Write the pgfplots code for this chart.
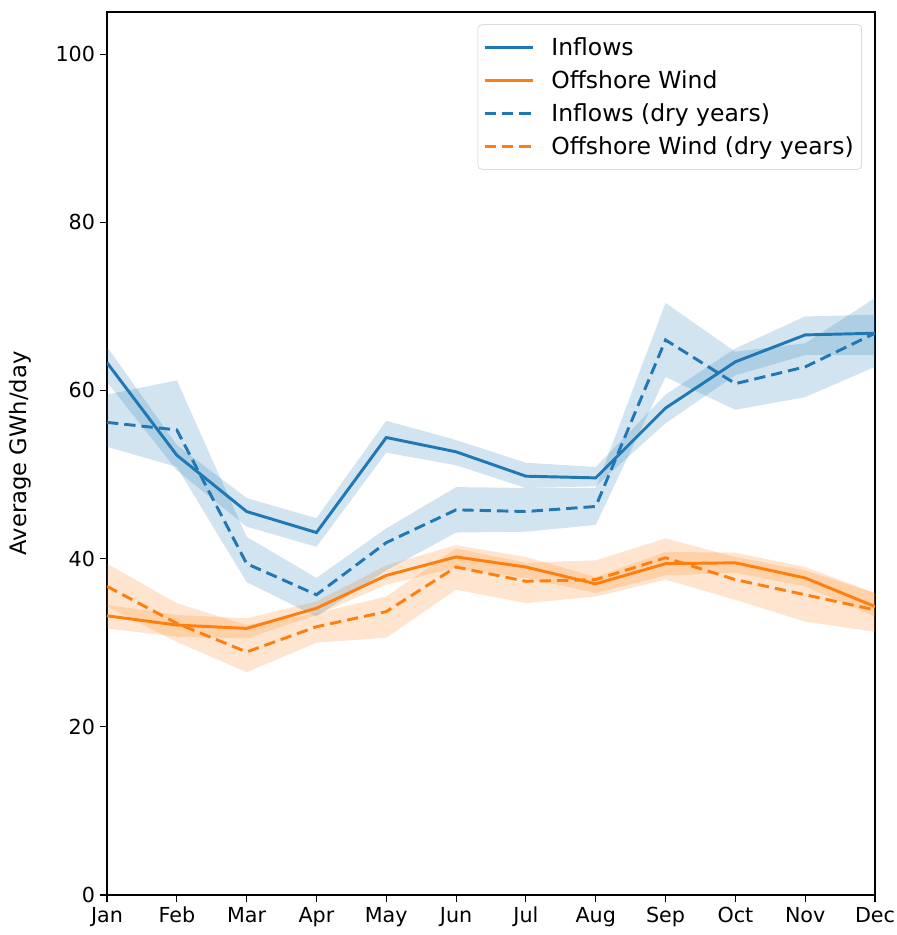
\documentclass[border=0pt]{standalone}
\usepackage{fontspec}
\setmainfont{DejaVu Sans}
\usepackage{pgfplots}
\usepackage{pgfplotstable}
\pgfplotsset{compat=1.18}
\usepgfplotslibrary{fillbetween}
\usetikzlibrary{calc}
\definecolor{tblue}{HTML}{1F77B4}
\definecolor{torange}{HTML}{FF7F0E}
\pgfplotstableread{
x ih im il dh dm dl oh om ol wh wm wl
0 65.2 63.3 61.0 59.5 56.2 53.3 34.5 33.2 31.7 39.4 36.7 34.3
1 53.5 52.3 50.5 61.2 55.3 50.9 33.3 32.1 30.7 34.7 32.3 30.1
2 47.2 45.6 43.8 42.6 39.4 37.2 32.9 31.7 30.5 32.1 28.9 26.5
3 44.8 43.1 41.4 37.7 35.7 33.1 34.9 34.1 33.3 33.5 31.9 30.0
4 56.4 54.4 52.6 43.6 41.9 38.6 39.2 38.0 36.9 35.5 33.7 30.6
5 54.1 52.7 51.1 48.5 45.8 43.1 41.6 40.2 38.9 41.2 39.0 36.3
6 51.4 49.8 48.4 48.4 45.6 43.2 40.2 39.0 37.7 39.5 37.3 34.7
7 50.9 49.6 48.6 48.4 46.2 44.0 37.8 37.0 35.9 39.8 37.5 35.5
8 59.5 57.9 56.1 70.4 66.0 61.6 40.8 39.4 38.0 42.4 40.1 37.5
9 65.0 63.4 61.8 64.6 60.8 57.7 40.7 39.5 38.3 40.2 37.5 35.1
10 68.8 66.6 64.2 65.6 62.8 59.2 39.0 37.7 36.7 38.6 35.7 32.5
11 69.0 66.8 64.2 71.0 66.8 62.8 35.9 34.3 33.1 35.9 33.9 31.3
}\data
\begin{document}
\begin{tikzpicture}[font=\fontsize{15.5}{18.6}\selectfont]
\begin{axis}[name=ax, scale only axis, width=576pt, height=662.25pt,
  xmin=0, xmax=11, ymin=0, ymax=105,
  xtick={0,...,11},
  xticklabels={Jan,Feb,Mar,Apr,May,Jun,Jul,Aug,Sep,Oct,Nov,Dec},
  ytick={0,20,40,60,80,100},
  tick align=outside, xtick pos=bottom, ytick pos=left,
  major tick length=5.5pt,
  tick style={black, line width=0.8pt},
  axis line style={line width=0.8pt},
  /pgf/number format/assume math mode=true,
  ylabel={Average GWh/day},
  ylabel style={at={(axis description cs:-0.113,0.5)}, anchor=center,
    font=\fontsize{17}{20}\selectfont},
  legend cell align=left,
  legend style={at={(0.983,0.986)}, anchor=north east, draw=black!20,
    rounded corners=3pt, fill=white, fill opacity=0.8, text opacity=1,
    inner xsep=4pt, inner ysep=7.5pt, row sep=6pt,
    font=\fontsize{17.6}{20.5}\selectfont,
    nodes={inner sep=2pt}},
  legend image code/.code={\draw[#1] (0pt,0pt) -- (36.5pt,0pt);
    \path[draw=none] (0pt,0pt) -- (48pt,0pt);},
]
\addplot[draw=none, name path=ih, forget plot] table[x=x,y=ih]{\data};
\addplot[draw=none, name path=il, forget plot] table[x=x,y=il]{\data};
\addplot[tblue, fill opacity=0.2, draw=none, forget plot] fill between[of=ih and il];
\addplot[draw=none, name path=oh, forget plot] table[x=x,y=oh]{\data};
\addplot[draw=none, name path=ol, forget plot] table[x=x,y=ol]{\data};
\addplot[torange, fill opacity=0.2, draw=none, forget plot] fill between[of=oh and ol];
\addplot[draw=none, name path=dh, forget plot] table[x=x,y=dh]{\data};
\addplot[draw=none, name path=dl, forget plot] table[x=x,y=dl]{\data};
\addplot[tblue, fill opacity=0.2, draw=none, forget plot] fill between[of=dh and dl];
\addplot[draw=none, name path=wh, forget plot] table[x=x,y=wh]{\data};
\addplot[draw=none, name path=wl, forget plot] table[x=x,y=wl]{\data};
\addplot[torange, fill opacity=0.2, draw=none, forget plot] fill between[of=wh and wl];
\addplot[tblue, line width=2.2pt, no marks] table[x=x,y=im]{\data};
\addlegendentry{Inflows}
\addplot[torange, line width=2.2pt, no marks] table[x=x,y=om]{\data};
\addlegendentry{Offshore Wind}
\addplot[tblue, line width=2.2pt, no marks, dash pattern=on 8.5pt off 4.5pt] table[x=x,y=dm]{\data};
\addlegendentry{Inflows (dry years)}
\addplot[torange, line width=2.2pt, no marks, dash pattern=on 8.5pt off 4.5pt] table[x=x,y=wm]{\data};
\addlegendentry{Offshore Wind (dry years)}
\end{axis}
\pgfresetboundingbox
\path ($(ax.south west)+(-80.25pt,-30pt)$) rectangle ($(ax.north east)+(15.75pt,9pt)$);
\end{tikzpicture}
\end{document}
